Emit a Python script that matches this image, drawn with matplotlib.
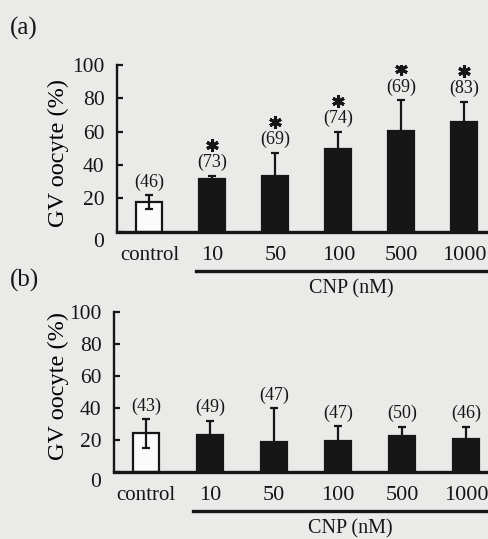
import matplotlib
matplotlib.use("Agg")
import numpy as np
import matplotlib.pyplot as plt
from matplotlib.transforms import offset_copy, ScaledTranslation

# groups on the x axis
groups = ["control", "10", "50", "100", "500", "1000"]

# panel (a): GV oocyte (%), mean and SD, n per group
mean_a = [17.8, 31.4, 33.4, 49.4, 60.2, 65.8]
sd_a = [4.2, 2.2, 14.0, 10.6, 18.8, 12.2]
n_a = [46, 73, 69, 74, 69, 83]
star_a = [False, True, True, True, True, True]

# panel (b)
mean_b = [24.0, 22.8, 18.8, 19.4, 22.3, 20.2]
sd_b = [9.0, 9.2, 20.8, 9.2, 5.8, 7.9]
n_b = [43, 49, 47, 47, 50, 46]
star_b = [False] * 6

yticks = [0, 20, 40, 60, 80, 100]

W, H, DPI = 489, 539, 100
bg = "#eaeae8"
ink = "#161616"
serif = ["Liberation Serif", "DejaVu Serif"]
plt.rcParams["font.family"] = serif
plt.rcParams["text.color"] = ink

fig = plt.figure(figsize=(W / DPI, H / DPI), dpi=DPI, facecolor=bg)


def px(x0, y0, x1, y1):
    # pixel box (top-left origin) -> figure fraction rect
    return [x0 / W, 1 - y1 / H, (x1 - x0) / W, (y1 - y0) / H]


def panel(rect, xlim, mean, sd, n, star, letter, letter_y, label_xy):
    ax = fig.add_axes(rect)
    ax.set_facecolor("none")
    x = np.arange(len(groups))
    colors = ["#fbfbfb"] + [ink] * (len(groups) - 1)
    ax.bar(x, mean, width=0.41, color=colors, edgecolor=ink, linewidth=1.6, zorder=2)
    ax.errorbar(x, mean, yerr=sd, fmt="none", ecolor=ink, elinewidth=1.6,
                capsize=2.8, capthick=1.6, zorder=3)
    tops = np.array(mean) + np.array(sd)
    for i in range(len(groups)):
        ax.annotate("(%d)" % n[i], xy=(x[i], tops[i]), xytext=(0, 13),
                    textcoords="offset pixels", ha="center", va="center", fontsize=13)
    sx = [x[i] for i in range(len(groups)) if star[i]]
    sy = [tops[i] for i in range(len(groups)) if star[i]]
    if sx:
        ax.plot(sx, sy, linestyle="none", marker=(6, 2, 0), markersize=9,
                markeredgewidth=2.2, color=ink,
                transform=offset_copy(ax.transData, fig, 0, 31, units="dots"))

    ax.set_xlim(*xlim)
    ax.set_ylim(0, 100)
    ax.set_yticks(yticks)
    ax.set_xticks(x)
    ax.set_xticklabels(groups, fontsize=16)
    ax.get_xticklabels()[0].set_fontsize(15)
    ax.tick_params(axis="x", length=0, pad=10, colors=ink)
    ax.tick_params(axis="y", direction="in", length=4, width=1.6, pad=9,
                   labelsize=15.5, colors=ink)
    for s in ["top", "right"]:
        ax.spines[s].set_visible(False)
    ax.spines["left"].set_linewidth(1.7)
    ax.spines["bottom"].set_linewidth(2.4)
    ax.spines["left"].set_color(ink)
    ax.spines["bottom"].set_color(ink)
    # the "0" label sits a little lower than the axis line
    lab0 = ax.get_yticklabels()[0]
    lab0.set_transform(lab0.get_transform() + ScaledTranslation(0, -8 / DPI, fig.dpi_scale_trans))

    ax.set_ylabel("GV oocyte (%)", fontsize=17.5)
    ax.yaxis.set_label_coords(*label_xy)

    # underline the CNP doses and name them
    ax.plot([0.74, xlim[1] + 0.5], [0, 0], color=ink, linewidth=2.4, clip_on=False,
            transform=offset_copy(ax.transData, fig, 0, -39.5, units="dots"))
    ax.annotate("CNP (nM)", xy=(3.2, 0), xytext=(0, -48), textcoords="offset pixels",
                ha="center", va="top", fontsize=14.5, annotation_clip=False)

    fig.text(10 / W, 1 - letter_y / H, letter, fontsize=18, ha="left", va="center")
    return ax


panel(px(117, 65, 489, 231.7), (-0.513, 5.392), mean_a, sd_a, n_a, star_a,
      "(a)", 28, (-0.128, 0.474))
panel(px(114, 311.7, 489, 471.7), (-0.50, 5.36), mean_b, sd_b, n_b, star_b,
      "(b)", 280, (-0.120, 0.536))

fig.savefig("out.png", dpi=DPI, facecolor=bg)
